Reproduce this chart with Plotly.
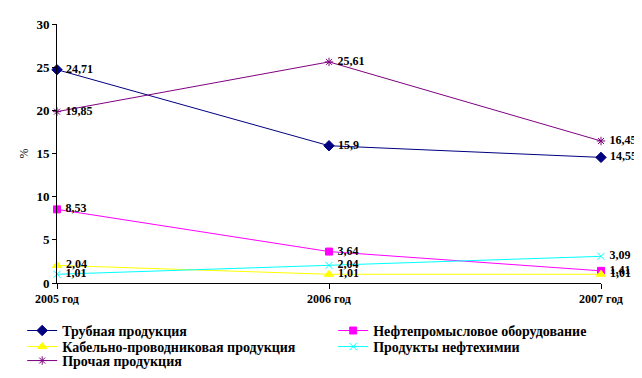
import plotly.graph_objects as go

categories = ["2005 год", "2006 год", "2007 год"]
series_names = ["Трубная продукция", "Нефтепромысловое оборудование",
                "Кабельно-проводниковая продукция", "Продукты нефтехимии",
                "Прочая продукция"]
pipe = [24.71, 15.9, 14.55]
oilfield = [8.53, 3.64, 1.41]
cable = [2.04, 1.01, 1.01]
petrochem = [1.01, 2.04, 3.09]
other = [19.85, 25.61, 16.45]
y_ticks = [0, 5, 10, 15, 20, 25, 30]

values = [pipe, oilfield, cable, petrochem, other]
colors = ["#000080", "#FF00FF", "#FFFF00", "#00FFFF", "#800080"]
symbols = ["diamond", "square", "triangle-up", "x-thin-open", "asterisk-open"]
sizes = [8, 7, 8, 7, 7]
legend_ids = ["legend", "legend", "legend2", "legend2", "legend3"]
legend_widths = [266, None, 266, None, None]

FONT = "Liberation Serif, Times New Roman, serif"


def fmt(v):
    return ("%g" % v).replace(".", ",")


xs = list(range(len(categories)))
fig = go.Figure()
for name, vals, c, sym, sz, lg, lw in zip(series_names, values, colors, symbols,
                                          sizes, legend_ids, legend_widths):
    fig.add_trace(go.Scatter(
        x=xs, y=vals, name=name, mode="lines+markers+text",
        line=dict(color=c, width=1),
        marker=dict(symbol=sym, size=sz, color=c, line=dict(color=c, width=1)),
        text=[" " + fmt(v) for v in vals], textposition="middle right",
        textfont=dict(family=FONT, size=12, color="black", weight="bold"),
        cliponaxis=False, legend=lg, legendwidth=lw,
    ))

leg_common = dict(orientation="h", xanchor="left", yanchor="middle",
                  font=dict(family=FONT, size=14, color="black", weight="bold"),
                  itemwidth=30, bgcolor="rgba(0,0,0,0)", borderwidth=0)
fig.update_layout(
    width=634, height=370,
    margin=dict(l=49, r=41, t=16, b=95, autoexpand=False),
    paper_bgcolor="white", plot_bgcolor="white",
    font=dict(family=FONT, color="black"),
    showlegend=True,
    legend=dict(x=-0.064, y=-0.185, **leg_common),
    legend2=dict(x=-0.064, y=-0.247, **leg_common),
    legend3=dict(x=-0.064, y=-0.301, **leg_common),
)
fig.update_xaxes(
    range=[0, 2], tickvals=xs, ticktext=categories,
    showline=True, linecolor="black", linewidth=1,
    ticks="outside", ticklen=5, tickcolor="black",
    showgrid=False, zeroline=False, automargin=False,
    tickfont=dict(family=FONT, size=12, color="black", weight="bold"),
)
fig.update_yaxes(
    range=[0, 30], tickvals=y_ticks,
    showline=True, linecolor="black", linewidth=1,
    ticks="outside", ticklen=4, tickcolor="black",
    showgrid=False, zeroline=False, automargin=False,
    title=dict(text="%", font=dict(family=FONT, size=12, color="black"), standoff=5),
    tickfont=dict(family=FONT, size=13, color="black", weight="bold"),
)
fig.write_html("out.html")
